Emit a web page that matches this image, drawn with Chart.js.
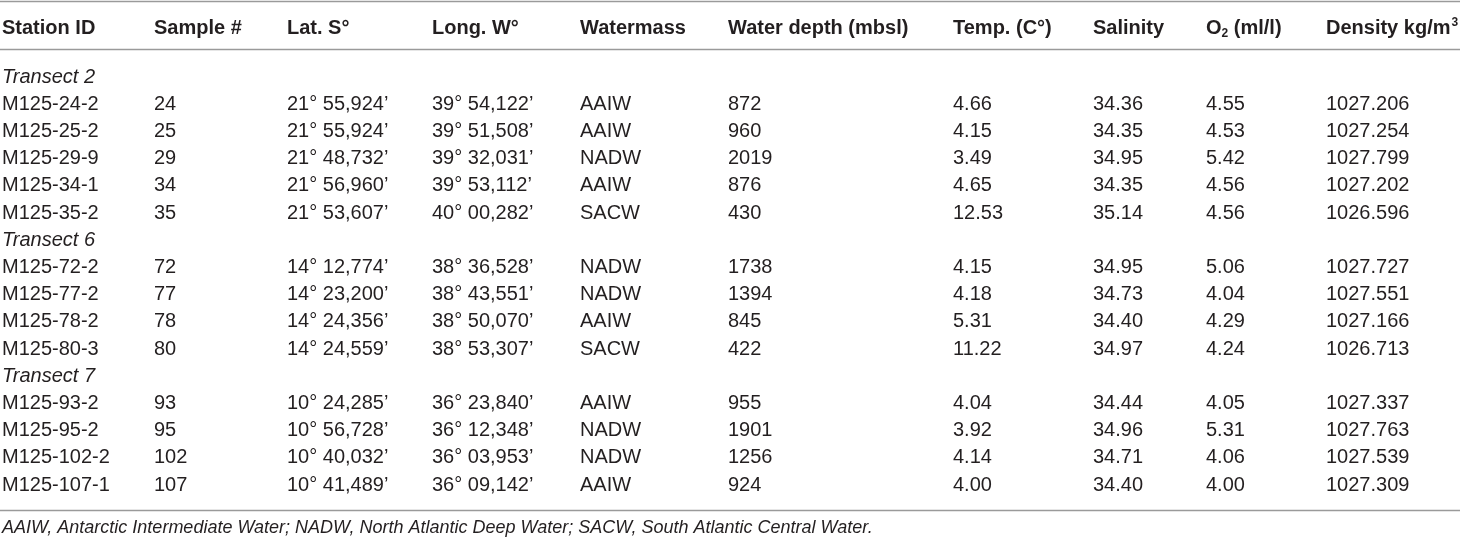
<!DOCTYPE html>
<html>
<head>
<meta charset="utf-8">
<script src="https://cdn.jsdelivr.net/npm/chart.js@4.4.1/dist/chart.umd.min.js"></script>
<style>
  html, body { margin: 0; padding: 0; background: #fff; }
  #wrap { width: 1460px; height: 540px; position: relative; }
</style>
</head>
<body>
<div id="wrap"><canvas id="tableChart"></canvas></div>
<script>
// table values
const transectNames = ["Transect 2", "Transect 6", "Transect 7"];
const transectSizes = [5, 4, 4];

const stationIds = [
  "M125-24-2", "M125-25-2", "M125-29-9", "M125-34-1", "M125-35-2",
  "M125-72-2", "M125-77-2", "M125-78-2", "M125-80-3",
  "M125-93-2", "M125-95-2", "M125-102-2", "M125-107-1"
];
const sampleNums = [24, 25, 29, 34, 35, 72, 77, 78, 80, 93, 95, 102, 107];
const latitudes = [
  "21° 55,924’", "21° 55,924’", "21° 48,732’", "21° 56,960’", "21° 53,607’",
  "14° 12,774’", "14° 23,200’", "14° 24,356’", "14° 24,559’",
  "10° 24,285’", "10° 56,728’", "10° 40,032’", "10° 41,489’"
];
const longitudes = [
  "39° 54,122’", "39° 51,508’", "39° 32,031’", "39° 53,112’", "40° 00,282’",
  "38° 36,528’", "38° 43,551’", "38° 50,070’", "38° 53,307’",
  "36° 23,840’", "36° 12,348’", "36° 03,953’", "36° 09,142’"
];
const watermasses = [
  "AAIW", "AAIW", "NADW", "AAIW", "SACW",
  "NADW", "NADW", "AAIW", "SACW",
  "AAIW", "NADW", "NADW", "AAIW"
];
const depths = [872, 960, 2019, 876, 430, 1738, 1394, 845, 422, 955, 1901, 1256, 924];
const temps = [4.66, 4.15, 3.49, 4.65, 12.53, 4.15, 4.18, 5.31, 11.22, 4.04, 3.92, 4.14, 4.00];
const salinities = [34.36, 34.35, 34.95, 34.35, 35.14, 34.95, 34.73, 34.40, 34.97, 34.44, 34.96, 34.71, 34.40];
const oxygen = [4.55, 4.53, 5.42, 4.56, 4.56, 5.06, 4.04, 4.29, 4.24, 4.05, 5.31, 4.06, 4.00];
const densities = [1027.206, 1027.254, 1027.799, 1027.202, 1026.596, 1027.727, 1027.551, 1027.166, 1026.713, 1027.337, 1027.763, 1027.539, 1027.309];

const headers = ["Station ID", "Sample #", "Lat. S°", "Long. W°", "Watermass", "Water depth (mbsl)", "Temp. (C°)", "Salinity", "O|2| (ml/l)", "Density kg/m^3"];
const footnote = "AAIW, Antarctic Intermediate Water; NADW, North Atlantic Deep Water; SACW, South Atlantic Central Water.";

// layout: left edge of each column (x axis units = px) and special row positions (y axis units = rows)
const colX = [2, 154, 287, 432, 580, 728, 953, 1093, 1206, 1326];
const headerRow = -1.77;
const ruleRows = [-2.79, -1.03, 15.92];
const footRow = 16.58;

const BODY_FONT = '20px "Liberation Sans", Arial, sans-serif';
const BOLD_FONT = 'bold 20px "Liberation Sans", Arial, sans-serif';
const ITALIC_FONT = 'italic 20px "Liberation Sans", Arial, sans-serif';
const FOOT_FONT = 'italic 18px "Liberation Sans", Arial, sans-serif';
const TEXT_COLOR = "#231f20";

// row index of each station, leaving a slot for each transect label
const stationRows = [];
const transectRows = [];
let r = 0;
transectSizes.forEach((n) => {
  transectRows.push(r);
  r++;
  for (let i = 0; i < n; i++) {
    stationRows.push(r);
    r++;
  }
});

const columnTexts = [
  stationIds,
  sampleNums.map(String),
  latitudes,
  longitudes,
  watermasses,
  depths.map(String),
  temps.map(v => v.toFixed(2)),
  salinities.map(v => v.toFixed(2)),
  oxygen.map(v => v.toFixed(2)),
  densities.map(v => v.toFixed(3))
];

const datasets = [];
columnTexts.forEach((texts, c) => {
  datasets.push({
    data: texts.map((t, i) => ({ x: colX[c], y: stationRows[i] })),
    texts,
    font: BODY_FONT
  });
});
datasets.push({
  data: transectRows.map(row => ({ x: colX[0], y: row })),
  texts: transectNames,
  font: ITALIC_FONT
});
datasets.push({
  data: headers.map((h, c) => ({ x: colX[c], y: headerRow })),
  texts: headers,
  font: BOLD_FONT
});
datasets.push({
  data: [{ x: colX[0], y: footRow }],
  texts: [footnote],
  font: FOOT_FONT
});

// draws "O|2|" as subscript and "^3" as superscript, everything else plain
function drawRich(ctx, text, x, y, font) {
  const small = font.replace("20px", "12px");
  const parts = text.split(/(\|[^|]+\||\^\d)/).filter(p => p.length);
  let cx = x;
  parts.forEach((p) => {
    if (p.startsWith("|")) {
      ctx.font = small;
      ctx.fillText(p.slice(1, -1), cx, y + 5);
      cx += ctx.measureText(p.slice(1, -1)).width;
    } else if (p.startsWith("^")) {
      ctx.font = small;
      ctx.fillText(p.slice(1), cx + 1, y - 6);
      cx += ctx.measureText(p.slice(1)).width + 1;
    } else {
      ctx.font = font;
      ctx.fillText(p, cx, y);
      cx += ctx.measureText(p).width;
    }
  });
}

const tablePlugin = {
  id: "tableText",
  beforeDatasetsDraw(chart) {
    const ctx = chart.ctx;
    const y = chart.scales.y;
    ctx.save();
    ctx.strokeStyle = "#9a9a9a";
    ctx.lineWidth = 1.5;
    ruleRows.forEach((row) => {
      const py = Math.round(y.getPixelForValue(row)) + 0.5;
      ctx.beginPath();
      ctx.moveTo(chart.chartArea.left, py);
      ctx.lineTo(chart.chartArea.right, py);
      ctx.stroke();
    });
    ctx.restore();
  },
  afterDatasetsDraw(chart) {
    const ctx = chart.ctx;
    ctx.save();
    ctx.fillStyle = TEXT_COLOR;
    ctx.textAlign = "left";
    ctx.textBaseline = "middle";
    chart.data.datasets.forEach((ds, d) => {
      const meta = chart.getDatasetMeta(d);
      meta.data.forEach((pt, i) => {
        drawRich(ctx, ds.texts[i], pt.x, pt.y, ds.font);
      });
    });
    ctx.restore();
  }
};

new Chart(document.getElementById("tableChart").getContext("2d"), {
  type: "scatter",
  data: { datasets },
  options: {
    responsive: true,
    maintainAspectRatio: false,
    animation: false,
    layout: { padding: 0 },
    elements: { point: { radius: 0, hoverRadius: 0 } },
    plugins: {
      legend: { display: false },
      tooltip: { enabled: false }
    },
    scales: {
      x: { type: "linear", min: 0, max: 1460, display: false },
      y: { type: "linear", min: -2.831, max: 17.022, reverse: true, display: false }
    }
  },
  plugins: [tablePlugin]
});
</script>
</body>
</html>
